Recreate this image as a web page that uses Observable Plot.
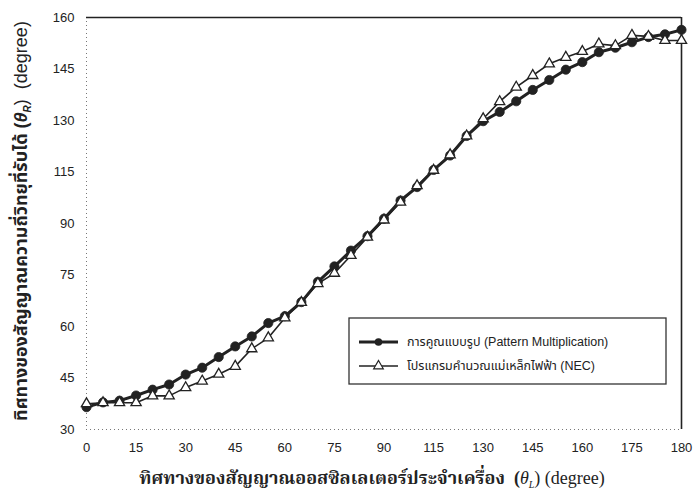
<!DOCTYPE html>
<html>
<head>
<meta charset="utf-8">
<script src="https://cdn.jsdelivr.net/npm/d3@7"></script>
<script src="https://cdn.jsdelivr.net/npm/@observablehq/plot@0.6"></script>
<style>
  html, body { margin: 0; padding: 0; background: #fff; }
  #chart { position: relative; width: 693px; height: 500px; }
</style>
</head>
<body>
<div id="chart"></div>
<script>
// ---- data ----
const angles = [0,5,10,15,20,25,30,35,40,45,50,55,60,65,70,75,80,85,90,95,100,105,110,115,120,125,130,135,140,145,150,155,160,165,170,175,180];
const patternMult = [36.5,37.9,38.4,39.9,41.6,43.1,46.0,48.0,51.1,54.2,57.1,61.0,63.0,67.1,73.0,77.5,82.1,86.3,91.4,96.7,100.6,105.6,109.8,115.5,119.8,122.5,125.6,128.9,131.8,134.8,137.0,139.9,141.2,142.8,144.3,145.1,146.4];
const necValues = [37.5,37.8,37.8,37.8,39.8,39.8,42.2,44.1,46.1,48.4,53.5,56.7,62.5,67.0,72.5,75.5,80.7,86.0,91.0,96.2,101.0,105.5,110.0,115.5,120.5,125.5,129.7,133.1,136.5,138.4,140.1,142.3,141.8,144.8,144.5,143.3,143.3];
const xTicks = [0,15,30,45,60,75,90,105,120,135,150,165,180];
const xTickLabels = ["0","15","30","45","60","75","90","115","130","145","160","175","180"];
const yTicks = [30,45,60,75,90,105,120,135,150];
const yTickLabels = ["30","45","60","75","90","115","130","145","160"];
const seriesNames = ["การคูณแบบรูป (Pattern Multiplication)", "โปรแกรมคำนวณแม่เหล็กไฟฟ้า (NEC)"];

const pm = angles.map((a, i) => ({x: a, y: patternMult[i]}));
const nec = angles.map((a, i) => ({x: a, y: necValues[i]}));

const sans = "'Liberation Sans', Arial, 'Noto Sans Thai', Loma, Garuda, sans-serif";
const serif = "'Liberation Serif', 'Times New Roman', 'Noto Serif Thai', Norasi, serif";
const ink = "#222";

const chart = Plot.plot({
  width: 693,
  height: 500,
  marginTop: 17,
  marginRight: 12,
  marginBottom: 71,
  marginLeft: 86,
  style: {fontFamily: sans, fontSize: "13px", color: ink, background: "white", overflow: "visible"},
  x: {domain: [0, 180], ticks: xTicks, tickFormat: d => xTickLabels[xTicks.indexOf(d)], tickSize: 0, tickPadding: 13, label: null},
  y: {domain: [30, 150], ticks: yTicks, tickFormat: d => yTickLabels[yTicks.indexOf(d)], tickSize: 0, tickPadding: 12, label: null},
  marks: [
    Plot.ruleX([0], {stroke: "#777", strokeWidth: 1, strokeDasharray: "1,3"}),
    Plot.ruleY([30], {stroke: "#777", strokeWidth: 1, strokeDasharray: "1,3"}),
    Plot.ruleY([150], {stroke: ink, strokeWidth: 1.6}),
    Plot.ruleX([180], {stroke: ink, strokeWidth: 1.6}),
    Plot.line(nec, {x: "x", y: "y", stroke: ink, strokeWidth: 1.6}),
    Plot.line(pm, {x: "x", y: "y", stroke: ink, strokeWidth: 3}),
    Plot.dot(pm, {x: "x", y: "y", symbol: "circle", r: 4.6, fill: ink, stroke: ink, strokeWidth: 0.8}),
    Plot.dot(nec, {x: "x", y: "y", symbol: "triangle", r: 3.8, fill: "white", stroke: ink, strokeWidth: 1.3})
  ]
});
document.getElementById("chart").appendChild(chart);

const svg = d3.select(chart);

// x axis label
const xl = svg.append("text")
  .attr("x", 372).attr("y", 484)
  .attr("text-anchor", "middle")
  .attr("fill", ink)
  .style("font-family", serif)
  .style("font-size", "18px")
  .style("font-weight", "bold");
xl.append("tspan").text("ทิศทางของสัญญาณออสซิลเลเตอร์ประจำเครื่อง  (");
xl.append("tspan").text("θ").style("font-style", "italic").style("font-weight", "normal");
xl.append("tspan").text("L").attr("dy", 4).style("font-size", "10px").style("font-style", "italic").style("font-weight", "normal");
xl.append("tspan").text(") (degree)").attr("dy", -4).style("font-weight", "normal");

// y axis label
const yl = svg.append("text")
  .attr("transform", "translate(27,221) rotate(-90)")
  .attr("text-anchor", "middle")
  .attr("fill", ink)
  .style("font-family", sans)
  .style("font-size", "18px")
  .style("font-weight", "bold");
yl.append("tspan").text("ทิศทางของสัญญาณความถี่วิทยุที่รับได้ (");
yl.append("tspan").text("θ").style("font-style", "italic");
yl.append("tspan").text("R").attr("dy", 4).style("font-size", "10px").style("font-style", "italic");
yl.append("tspan").text(")  (degree)").attr("dy", -4).style("font-weight", "normal");

// legend
const lg = svg.append("g");
lg.append("rect").attr("x", 349).attr("y", 318).attr("width", 317).attr("height", 66)
  .attr("fill", "white").attr("stroke", "#333").attr("stroke-width", 1.3);
const rows = [
  {y: 342, w: 3, sym: "circle"},
  {y: 366, w: 1.6, sym: "triangle"}
];
rows.forEach((r, i) => {
  lg.append("line").attr("x1", 359).attr("x2", 398).attr("y1", r.y).attr("y2", r.y)
    .attr("stroke", ink).attr("stroke-width", r.w);
  if (r.sym === "circle") {
    lg.append("circle").attr("cx", 378.5).attr("cy", r.y).attr("r", 3.8).attr("fill", ink);
  } else {
    lg.append("path").attr("d", d3.symbol(d3.symbolTriangle, 40)()).attr("transform", `translate(378.5,${r.y})`)
      .attr("fill", "white").attr("stroke", ink).attr("stroke-width", 1.2);
  }
  lg.append("text").attr("x", 407).attr("y", r.y).attr("dy", "0.35em")
    .attr("text-anchor", "start")
    .attr("fill", ink).style("font-family", sans).style("font-size", "12.5px")
    .text(seriesNames[i]);
});
</script>
</body>
</html>
